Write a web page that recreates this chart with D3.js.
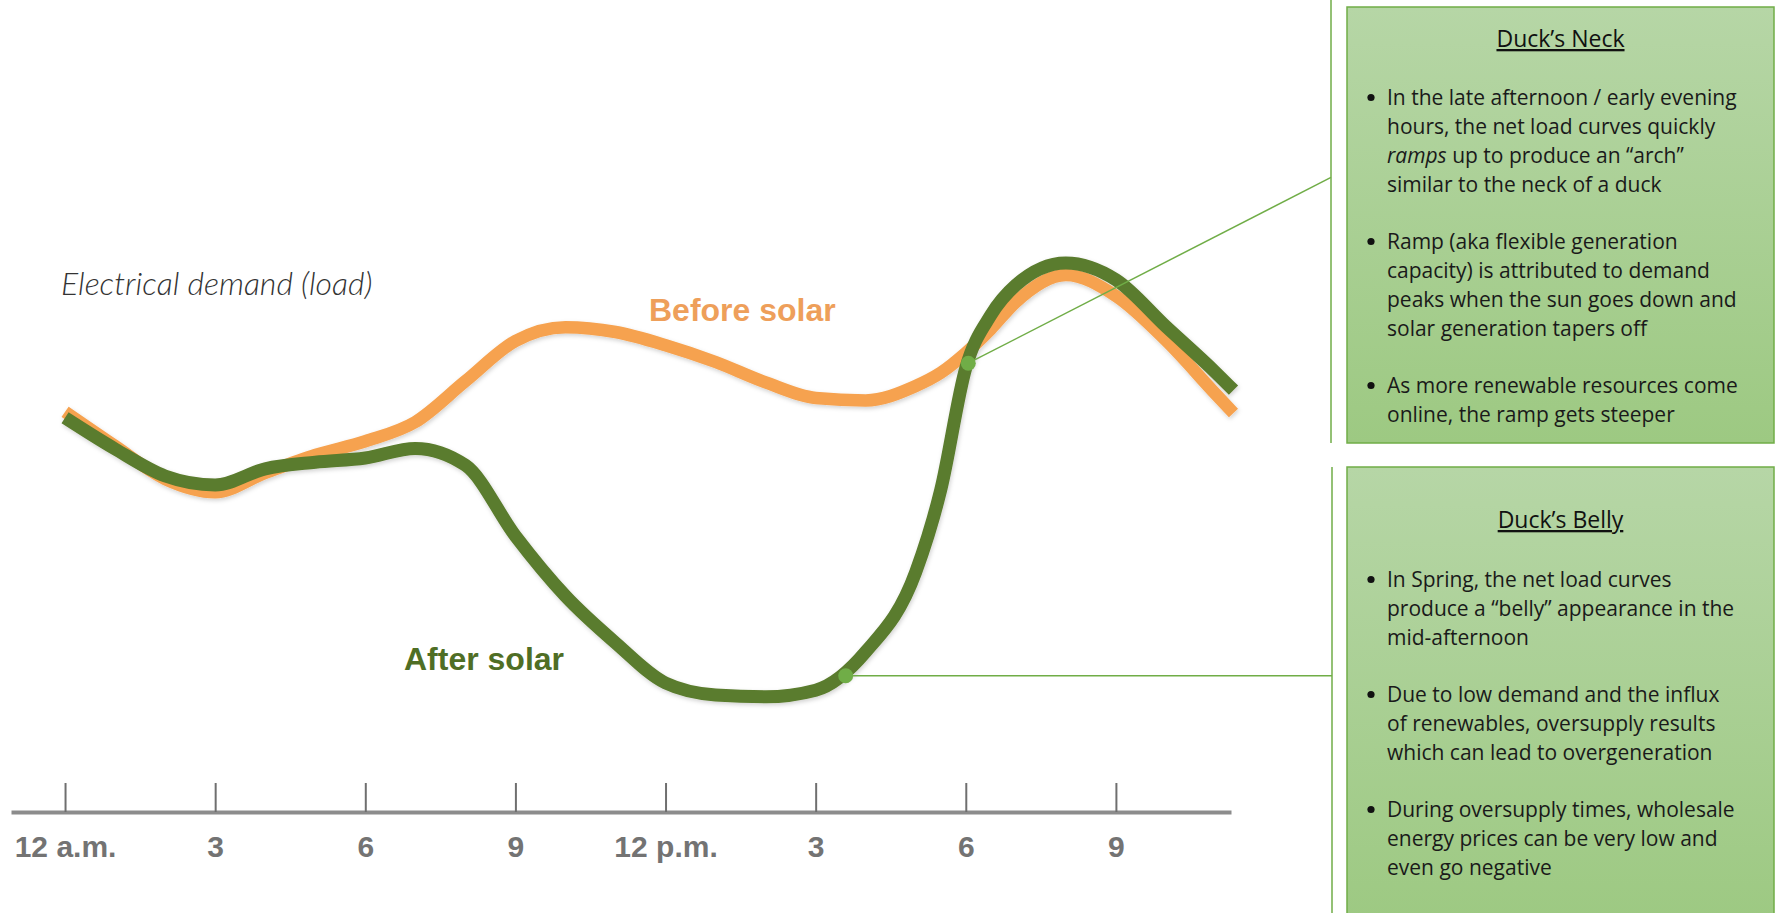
<!DOCTYPE html>
<html lang="en">
<head>
  <meta charset="UTF-8">
  <title>Duck Curve</title>
  <script src="https://d3js.org/d3.v7.min.js"></script>
  <style>
    body { margin: 0; background: #fff; }
    svg { display: block; }
  </style>
</head>
<body>
<div class="main"></div>

<script>
  // hours of the day and the two load curves (arbitrary load units)
  const hours = [0, 1, 2, 3, 4, 5, 6, 7, 8, 9, 10, 11, 12, 13, 14, 15, 16, 17, 17.5, 18, 18.5, 19, 20, 21, 22, 23, 23.35];
  const beforeSolar = [66.7, 61, 55.5, 53.3, 56.5, 59.5, 61.8, 65, 71.8, 78.5, 80.8, 80, 77.8, 75, 71.6, 69, 68.6, 71, 73.2, 76.5, 80.5, 85, 89.5, 86, 78.6, 69.6, 66.5];
  const afterSolar = [65.7, 60.5, 56, 54.5, 57.2, 58.3, 59, 60.6, 57.8, 46, 36, 28.2, 21.5, 19.5, 19.2, 20.3, 26.7, 40, 53.7, 74, 82.8, 87.8, 91.5, 88.7, 80.9, 73.2, 70.3];

  const tickHours = [0, 3, 6, 9, 12, 15, 18, 21];
  const tickLabels = ["12 a.m.", "3", "6", "9", "12 p.m.", "3", "6", "9"];

  // points on the after-solar curve that the two panels point at
  const calloutHours = [18.05, 15.6];
  const calloutValues = [74.8, 22.7];

  // panel texts; words wrapped in *...* are set in italics
  const neckTitle = "Duck\u2019s Neck";
  const neckBullets = [
    ["In the late afternoon / early evening", "hours, the net load curves quickly", "*ramps* up to produce an \u201carch\u201d", "similar to the neck of a duck"],
    ["Ramp (aka flexible generation", "capacity) is attributed to demand", "peaks when the sun goes down and", "solar generation tapers off"],
    ["As more renewable resources come", "online, the ramp gets steeper"]
  ];
  const bellyTitle = "Duck\u2019s Belly";
  const bellyBullets = [
    ["In Spring, the net load curves", "produce a \u201cbelly\u201d appearance in the", "mid-afternoon"],
    ["Due to low demand and the influx", "of renewables, oversupply results", "which can lead to overgeneration"],
    ["During oversupply times, wholesale", "energy prices can be very low and", "even go negative"]
  ];

  var width = 1779, height = 913;
  var orange = "#f6a24f", green = "#5a7b2d", calloutGreen = "#70ad47";
  var bodyFont = "'Open Sans', 'Noto Sans', sans-serif";

  var svg = d3.select(".main")
          .append("svg")
          .attr("width", width)
          .attr("height", height);

  var defs = svg.append("defs");
  var shadow = defs.append("filter").attr("id", "soft").attr("x", "-5%").attr("y", "-5%").attr("width", "110%").attr("height", "120%");
  shadow.append("feDropShadow").attr("dx", 1).attr("dy", 2).attr("stdDeviation", 2)
          .attr("flood-color", "#000").attr("flood-opacity", 0.18);

  var grad = defs.append("linearGradient").attr("id", "panelFill")
          .attr("x1", 0).attr("y1", 0).attr("x2", 0).attr("y2", 1);
  grad.append("stop").attr("offset", "0%").attr("stop-color", "#b6d6a6");
  grad.append("stop").attr("offset", "100%").attr("stop-color", "#9dc982");

  let xScale = d3.scaleLinear().domain([-1.08, 23.3]).range([11, 1231]);
  let yScale = d3.scaleLinear().domain([0, 100]).range([812, 212]);

  // x axis: ticks pointing up, labels underneath
  let xAxis = d3.axisBottom(xScale)
          .tickValues(tickHours)
          .tickFormat((d, i) => tickLabels[i])
          .tickSizeInner(-29)
          .tickSizeOuter(0)
          .tickPadding(24);

  let axisG = svg.append("g")
          .attr("transform", `translate(0, ${yScale(0)})`)
          .call(xAxis);
  axisG.select(".domain").attr("stroke", "#8c8c8c").attr("stroke-width", 4);
  axisG.selectAll(".tick line").attr("stroke", "#6f6f6f").attr("stroke-width", 2);
  axisG.selectAll(".tick text")
          .attr("fill", "#737373")
          .style("font-family", "'Liberation Sans', Arial, sans-serif")
          .style("font-weight", "bold")
          .style("font-size", "30px");

  // load curves
  let line = d3.line()
          .x((d, i) => xScale(hours[i]))
          .y(d => yScale(d))
          .curve(d3.curveMonotoneX);

  let curveG = svg.append("g").attr("filter", "url(#soft)");
  curveG.append("path").datum(beforeSolar)
          .attr("d", line).attr("fill", "none")
          .attr("stroke", orange).attr("stroke-width", 12.5);
  curveG.append("path").datum(afterSolar)
          .attr("d", line).attr("fill", "none")
          .attr("stroke", green).attr("stroke-width", 13);

  // curve labels
  svg.append("text").attr("x", 61).attr("y", 295)
          .style("font-family", "Lato, 'Open Sans', sans-serif").style("font-style", "italic")
          .style("font-weight", 300)
          .style("font-size", "32px").attr("fill", "#333")
          .text("Electrical demand (load)");
  svg.append("text").attr("x", 649).attr("y", 321)
          .style("font-family", "'Liberation Sans', Arial, sans-serif").style("font-weight", "bold")
          .style("font-size", "32px").attr("fill", "#ee9f5a")
          .text("Before solar");
  svg.append("text").attr("x", 404).attr("y", 670)
          .style("font-family", "'Liberation Sans', Arial, sans-serif").style("font-weight", "bold")
          .style("font-size", "32px").attr("fill", "#4f6e25")
          .text("After solar");

  // connectors from the curve to the panels
  let neckX = xScale(calloutHours[0]), neckY = yScale(calloutValues[0]);
  let bellyX = xScale(calloutHours[1]), bellyY = yScale(calloutValues[1]);
  let connG = svg.append("g").attr("stroke", calloutGreen).attr("stroke-width", 1.5).attr("fill", "none");
  connG.append("line").attr("x1", 1331).attr("y1", 0).attr("x2", 1331).attr("y2", 443);
  connG.append("line").attr("x1", 1332).attr("y1", 467).attr("x2", 1332).attr("y2", height);
  connG.append("line").attr("x1", neckX).attr("y1", neckY)
          .attr("x2", 1331).attr("y2", neckY + (1331 - neckX) * (183 - neckY) / (1320 - neckX));
  connG.append("line").attr("x1", bellyX).attr("y1", bellyY).attr("x2", 1332).attr("y2", bellyY);

  svg.selectAll("circle.callout")
          .data(calloutHours)
          .join("circle")
          .attr("class", "callout")
          .attr("cx", d => xScale(d))
          .attr("cy", (d, i) => yScale(calloutValues[i]))
          .attr("r", 7.5)
          .attr("fill", calloutGreen);

  // text panels
  function drawPanel(top, bottom, title, titleBase, bullets, firstBase) {
    let g = svg.append("g");
    g.append("rect").attr("x", 1347).attr("y", top)
            .attr("width", 427).attr("height", bottom - top)
            .attr("fill", "url(#panelFill)")
            .attr("stroke", calloutGreen).attr("stroke-width", 1.5);
    g.append("text").attr("x", 1560.5).attr("y", titleBase)
            .attr("text-anchor", "middle")
            .style("font-family", bodyFont).style("font-size", "23px")
            .style("text-decoration", "underline")
            .attr("fill", "#111")
            .text(title);
    let y = firstBase;
    bullets.forEach(function (para) {
      g.append("circle").attr("cx", 1371).attr("cy", y - 7.5).attr("r", 3.6).attr("fill", "#111");
      para.forEach(function (ln, li) {
        let t = g.append("text").attr("x", 1387).attr("y", y + li * 29)
                .style("font-family", bodyFont).style("font-size", "21px")
                .attr("fill", "#1a1a1a");
        ln.split(/(\*[^*]+\*)/).filter(s => s.length).forEach(function (part) {
          if (part[0] === "*") {
            t.append("tspan").style("font-style", "italic").text(part.slice(1, -1));
          } else {
            t.append("tspan").text(part);
          }
        });
      });
      y += (para.length - 1) * 29 + 57;
    });
  }

  drawPanel(7, 443, neckTitle, 47, neckBullets, 105);
  drawPanel(467, height + 10, bellyTitle, 528, bellyBullets, 587);
</script>
</body>
</html>
